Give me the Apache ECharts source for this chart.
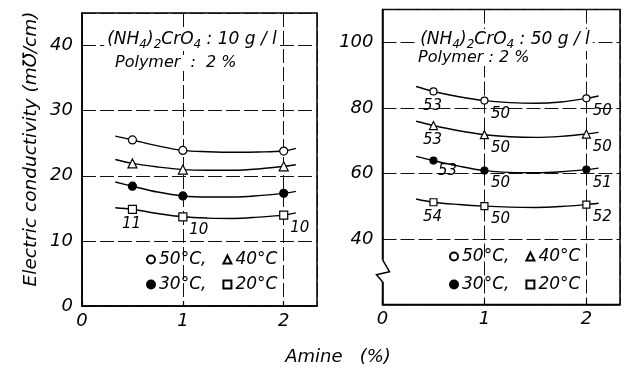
<!DOCTYPE html>
<html><head><meta charset="utf-8">
<script src="https://cdn.jsdelivr.net/npm/echarts@6/dist/echarts.min.js"></script>
<style>html,body{margin:0;padding:0;background:#fff}#c{width:628px;height:369px}</style>
</head><body><div id="c"></div>
<script>
// ---------- data ----------
const temps = ['50°C', '40°C', '30°C', '20°C'];
const amine = [0.5, 1, 2];
const xTicks = [0, 1, 2];
const leftYTicks = [0, 10, 20, 30, 40];
const rightYTicks = [40, 60, 80, 100];

// (NH4)2CrO4 : 10 g/l
const left50 = [25.5, 23.9, 23.8];
const left40 = [21.9, 20.95, 21.45];
const left30 = [18.4, 16.9, 17.3];
const left20 = [14.85, 13.7, 13.95];
const leftLabels20 = ['11', '10', '10'];
// drawn fitted curves
const curveX = [0.33, 0.5, 0.75, 1, 1.25, 1.5, 1.75, 2, 2.12];
const leftCurve50 = [26.1, 25.5, 24.6, 23.9, 23.7, 23.62, 23.65, 23.8, 24.2];
const leftCurve40 = [22.5, 21.9, 21.35, 20.95, 20.85, 20.85, 21.05, 21.45, 21.7];
const leftCurve30 = [19.05, 18.4, 17.5, 16.9, 16.75, 16.75, 16.95, 17.3, 17.6];
const leftCurve20 = [15.1, 14.85, 14.2, 13.7, 13.5, 13.45, 13.65, 13.95, 14.3];

// (NH4)2CrO4 : 50 g/l
const right50 = [85.0, 82.2, 82.9];
const right40 = [74.6, 71.8, 72.0];
const right30 = [63.9, 60.85, 61.15];
const right20 = [51.2, 50.0, 50.5];
const rightLabels50 = ['53', '50', '50'];
const rightLabels40 = ['53', '50', '50'];
const rightLabels30 = ['53', '50', '51'];
const rightLabels20 = ['54', '50', '52'];
const rightCurve50 = [86.5, 85.0, 83.4, 82.2, 81.6, 81.4, 81.8, 82.9, 83.6];
const rightCurve40 = [75.9, 74.6, 73.0, 71.8, 71.2, 71.0, 71.3, 72.0, 72.5];
const rightCurve30 = [65.2, 63.9, 62.2, 60.85, 60.3, 60.2, 60.5, 61.15, 61.6];
const rightCurve20 = [52.2, 51.2, 50.5, 50.0, 49.7, 49.6, 49.9, 50.5, 50.9];

// ---------- styles ----------
const FONT = 'DejaVu Sans';
const symbolStyle = {
  '50°C': { symbol: 'circle', fill: '#fff' },
  '40°C': { symbol: 'triangle', fill: '#fff' },
  '30°C': { symbol: 'circle', fill: '#000' },
  '20°C': { symbol: 'rect', fill: '#fff' }
};
function labelOffset(x, panel, name, i) {
  if (panel === 1 && name === '30°C' && i === 0) return [14, 11];
  return x < 0.75 ? [-1, 15] : [16, 13];
}
function markerSeries(name, gi, vals, labels, size) {
  const st = symbolStyle[name];
  return {
    type: 'scatter', name: name, xAxisIndex: gi, yAxisIndex: gi,
    symbol: st.symbol, symbolSize: st.symbol === 'triangle' ? size + 1 : size,
    itemStyle: { color: st.fill, borderColor: '#000', borderWidth: 1.2, opacity: 1 },
    z: 5,
    data: amine.map((x, i) => ({
      value: [x, vals[i]],
      label: labels ? {
        show: true, formatter: labels[i], position: 'inside',
        offset: labelOffset(x, gi, name, i),
        fontFamily: FONT, fontStyle: 'italic', fontSize: 15, color: '#000'
      } : { show: false }
    }))
  };
}
function curveSeries(gi, xs, ys) {
  return {
    type: 'line', xAxisIndex: gi, yAxisIndex: gi, showSymbol: false, symbol: 'none',
    smooth: 0.35, z: 3, silent: true,
    lineStyle: { color: '#000', width: 1.4 },
    data: xs.map((x, i) => [x, ys[i]])
  };
}
const gridLine = { show: true, lineStyle: { color: '#111', width: 1, type: [14, 4] } };
function xAxis(gi) {
  return {
    type: 'value', gridIndex: gi, min: 0, max: 2.33, interval: 1,
    axisLine: { lineStyle: { color: '#000', width: 1.5 } },
    axisTick: { show: true, inside: true, length: 5, lineStyle: { color: '#000', width: 1.2 } },
    axisLabel: {
      color: '#000', fontFamily: FONT, fontStyle: 'italic', fontSize: 18, margin: 6,
      showMaxLabel: false,
      formatter: v => xTicks.includes(v) ? String(v) : ''
    },
    splitLine: gridLine
  };
}
function yAxis(gi, min, max, interval, ticks) {
  return {
    type: 'value', gridIndex: gi, min: min, max: max, interval: interval,
    axisLine: { show: true, lineStyle: { color: '#000', width: 1.5 } },
    axisTick: { show: false },
    axisLabel: {
      color: '#000', fontFamily: FONT, fontStyle: 'italic', fontSize: 18, margin: 9,
      showMaxLabel: false,
      formatter: v => ticks.includes(v) ? String(v) : ''
    },
    splitLine: gridLine
  };
}
function legendRow(left, top, names) {
  return {
    left: left, top: top, padding: 0, itemGap: 16, itemWidth: 8, itemHeight: 8,
    selectedMode: false, data: names,
    formatter: n => (n === '50°C' || n === '30°C') ? n + ',' : n,
    textStyle: { fontFamily: FONT, fontStyle: 'italic', fontSize: 17, color: '#000', padding: [0, 0, 0, -1] }
  };
}
function titleText(id, x, y, conc) {
  return {
    type: 'text', id: id, x: x, y: y, z: 10,
    style: {
      text: '{a|(NH}{s|4}{a|)}{s|2}{a|CrO}{s|4}{a| : ' + conc + ' g / l}',
      align: 'center', verticalAlign: 'middle', backgroundColor: '#fff', padding: [0, 3],
      rich: {
        a: { fontFamily: FONT, fontStyle: 'italic', fontSize: 17, lineHeight: 22, verticalAlign: 'middle', fill: '#000' },
        s: { fontFamily: FONT, fontStyle: 'italic', fontSize: 12, lineHeight: 10, verticalAlign: 'bottom', fill: '#000' }
      }
    }
  };
}
function plainText(id, x, y, text, size, align, extra) {
  return Object.assign({
    type: 'text', id: id, x: x, y: y, z: 10,
    style: {
      text: text, fontFamily: FONT, fontStyle: 'italic', fontSize: size, fill: '#000',
      align: align, verticalAlign: 'middle', backgroundColor: '#fff'
    }
  }, extra || {});
}

const series = [
  curveSeries(0, curveX, leftCurve50),
  curveSeries(0, curveX, leftCurve40),
  curveSeries(0, curveX, leftCurve30),
  curveSeries(0, curveX, leftCurve20),
  markerSeries('50°C', 0, left50, null, 8),
  markerSeries('40°C', 0, left40, null, 8),
  markerSeries('30°C', 0, left30, null, 8),
  markerSeries('20°C', 0, left20, leftLabels20, 8),
  curveSeries(1, curveX, rightCurve50),
  curveSeries(1, curveX, rightCurve40),
  curveSeries(1, curveX, rightCurve30),
  curveSeries(1, curveX, rightCurve20),
  markerSeries('50°C', 1, right50, rightLabels50, 7),
  markerSeries('40°C', 1, right40, rightLabels40, 7),
  markerSeries('30°C', 1, right30, rightLabels30, 7),
  markerSeries('20°C', 1, right20, rightLabels20, 7)
];

const chart = echarts.init(document.getElementById('c'), null, { renderer: 'canvas' });
chart.setOption({
  animation: false,
  backgroundColor: '#fff',
  grid: [
    { left: 82, right: 311, top: 13, bottom: 63, show: true, borderColor: '#000', borderWidth: 1.5, backgroundColor: 'transparent' },
    { left: 382.5, right: 8, top: 9.5, bottom: 64.5, show: true, borderColor: '#000', borderWidth: 1.5, backgroundColor: 'transparent' }
  ],
  xAxis: [xAxis(0), xAxis(1)],
  yAxis: [yAxis(0, 0, 45, 10, leftYTicks), yAxis(1, 20, 110, 20, rightYTicks)],
  legend: [
    legendRow(146, 251, [temps[0], temps[1]]),
    legendRow(146, 276, [temps[2], temps[3]]),
    legendRow(449, 248, [temps[0], temps[1]]),
    legendRow(449, 276, [temps[2], temps[3]])
  ],
  graphic: [
    titleText('t1', 192, 40, '10'),
    plainText('p1', 115, 63, 'Polymer  :  2 %', 16, 'left'),
    titleText('t2', 505, 40, '50'),
    plainText('p2', 418, 58, 'Polymer : 2 %', 16, 'left'),
    plainText('yname', 31, 149, 'Electric conductivity (m℧/cm)', 18.5, 'center', { rotation: Math.PI / 2 }),
    plainText('xname', 338, 357, 'Amine   (%)', 18, 'center')
  ],
  series: series
});

// axis-break zigzag on the right panel's value axis
const bp = chart.convertToPixel({ gridIndex: 1 }, [0, 30]);
chart.setOption({
  graphic: [
    { type: 'rect', id: 'brkbg', z: 20, shape: { x: bp[0] - 1.5, y: bp[1] - 12, width: 3, height: 22 }, style: { fill: '#fff' } },
    { type: 'polyline', id: 'brk', z: 21,
      shape: { points: [[bp[0], bp[1] - 12], [bp[0] + 7, bp[1]], [bp[0] - 6, bp[1] + 3], [bp[0], bp[1] + 10]] },
      style: { stroke: '#000', lineWidth: 1.5, fill: 'none' } }
  ]
});
</script></body></html>
